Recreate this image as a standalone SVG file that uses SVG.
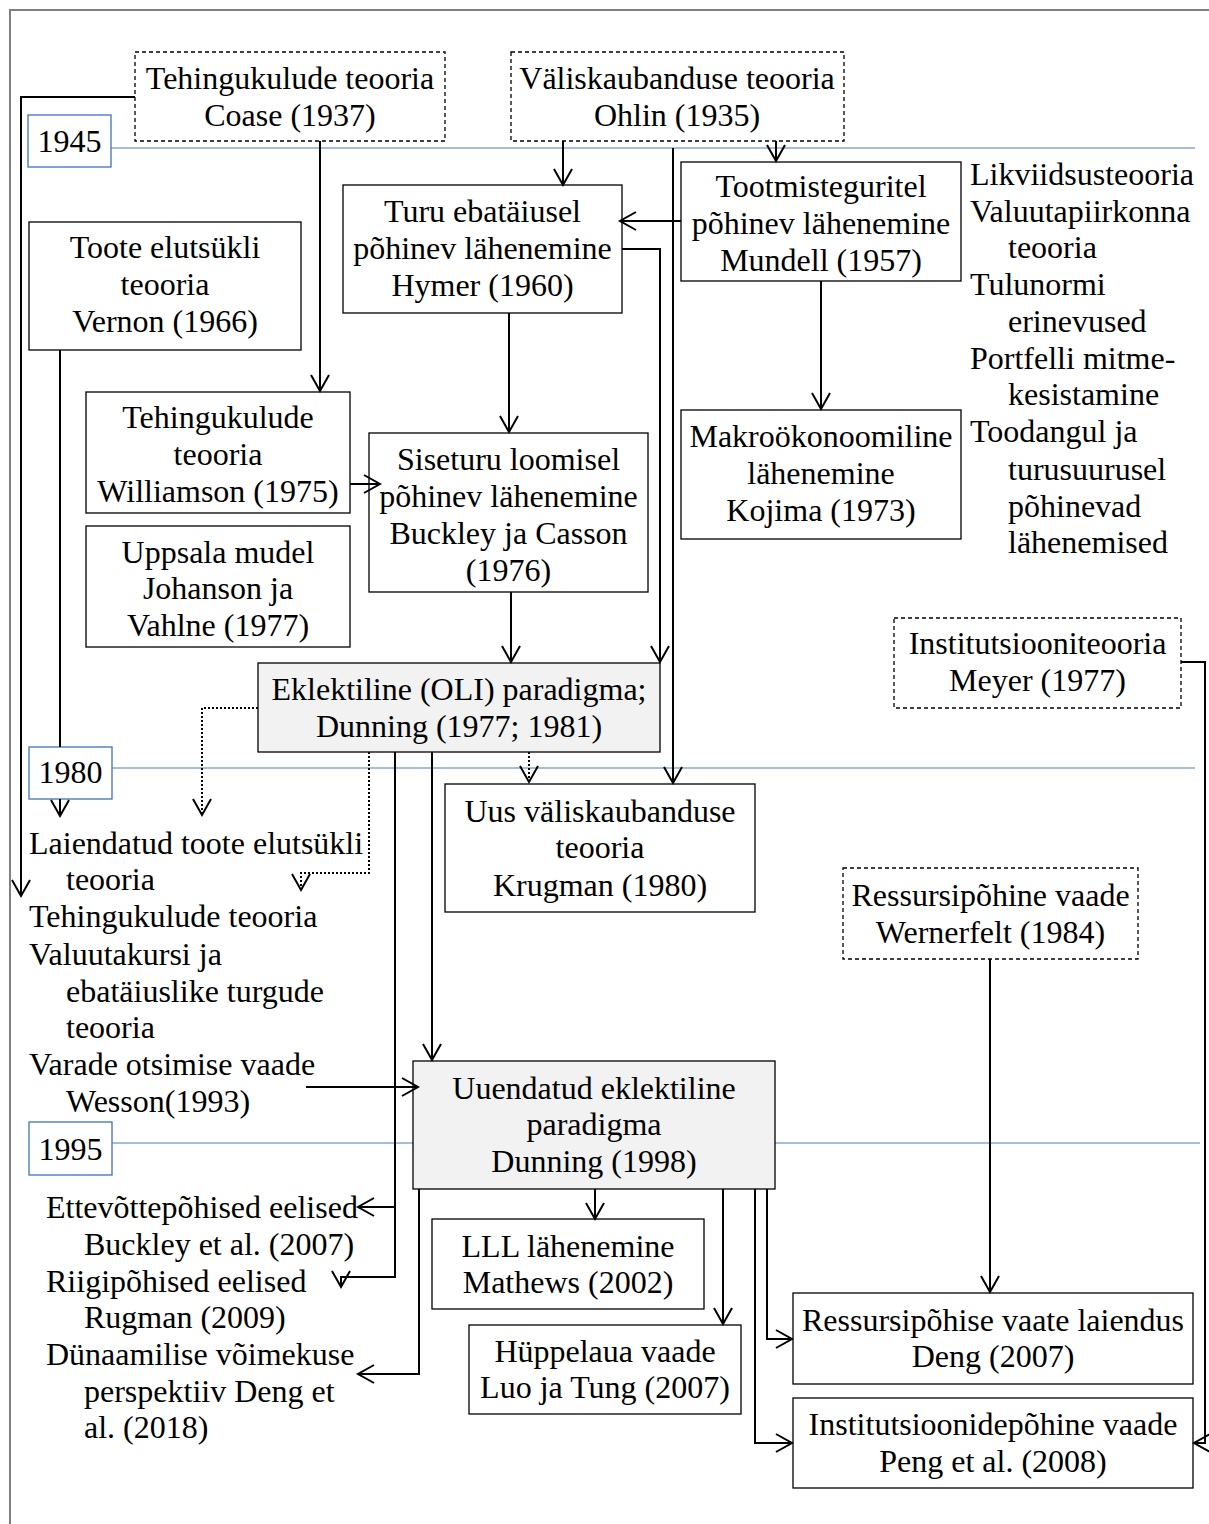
<svg xmlns="http://www.w3.org/2000/svg" width="1209" height="1524" viewBox="0 0 1209 1524">
<defs>
<style>
.t{font-family:"Liberation Serif","Times New Roman",serif;font-size:32px;fill:#000}
.c{text-anchor:middle}
.box{fill:#fff;stroke:#000;stroke-width:1.3}
.dbox{fill:#fff;stroke:#000;stroke-width:1.3;stroke-dasharray:4 3}
.gbox{fill:#f2f2f2;stroke:#000;stroke-width:1.3}
.ybox{fill:#fff;stroke:#4a7ebb;stroke-width:1.4}
.yl{stroke:#4a7ebb;stroke-width:1.2;fill:none}
.cn{fill:none;stroke:#000;stroke-width:2;marker-end:url(#arr)}
.dot{stroke-dasharray:2 2}
</style>
<marker id="arr" markerUnits="userSpaceOnUse" markerWidth="24" markerHeight="24" viewBox="-20 -12 24 24" refX="0" refY="0" orient="auto" overflow="visible">
<path d="M-16,-9 L0,0 L-16,9" fill="none" stroke="#000" stroke-width="2"/>
</marker>
</defs>
<rect width="1209" height="1524" fill="#fff"/>
<path d="M10,1524 V10 H1209" fill="none" stroke="#808080" stroke-width="2"/>

<g id="timeline">
<path class="yl" d="M111,148 H1195"/>
<path class="yl" d="M112,768 H1195"/>
<path class="yl" d="M112,1143 H1200"/>
</g>

<g id="y1945"><rect class="ybox" x="28" y="115" width="83" height="52"/><text class="t c" x="69.5" y="152">1945</text></g>
<g id="y1980"><rect class="ybox" x="29" y="747" width="83" height="52"/><text class="t c" x="70.5" y="783">1980</text></g>
<g id="y1995"><rect class="ybox" x="29" y="1122" width="83" height="53"/><text class="t c" x="70.5" y="1160">1995</text></g>

<g id="coase"><rect class="dbox" x="135" y="52" width="310" height="89"/>
<text class="t c" x="290" y="89">Tehingukulude teooria</text><text class="t c" x="290" y="126">Coase (1937)</text></g>

<g id="ohlin"><rect class="dbox" x="511" y="52" width="333" height="89"/>
<text class="t c" x="677" y="89">Väliskaubanduse teooria</text><text class="t c" x="677" y="126">Ohlin (1935)</text></g>

<g id="hymer"><rect class="box" x="343" y="185" width="279" height="128"/>
<text class="t c" x="482.5" y="222">Turu ebatäiusel</text><text class="t c" x="482.5" y="259">põhinev lähenemine</text><text class="t c" x="482.5" y="296">Hymer (1960)</text></g>

<g id="mundell"><rect class="box" x="681" y="162" width="280" height="119"/>
<text class="t c" x="821" y="197">Tootmisteguritel</text><text class="t c" x="821" y="234">põhinev lähenemine</text><text class="t c" x="821" y="271">Mundell (1957)</text></g>

<g id="rightlist">
<text class="t" x="970" y="185">Likviidsusteooria</text>
<text class="t" x="970" y="222">Valuutapiirkonna</text>
<text class="t" x="1008" y="258">teooria</text>
<text class="t" x="970" y="295">Tulunormi</text>
<text class="t" x="1008" y="332">erinevused</text>
<text class="t" x="970" y="369">Portfelli mitme-</text>
<text class="t" x="1008" y="405">kesistamine</text>
<text class="t" x="970" y="442">Toodangul ja</text>
<text class="t" x="1008" y="480">turusuurusel</text>
<text class="t" x="1008" y="517">põhinevad</text>
<text class="t" x="1008" y="553">lähenemised</text>
</g>

<g id="vernon"><rect class="box" x="29" y="222" width="272" height="128"/>
<text class="t c" x="165" y="258">Toote elutsükli</text><text class="t c" x="165" y="295">teooria</text><text class="t c" x="165" y="332">Vernon (1966)</text></g>

<g id="williamson"><rect class="box" x="86" y="392" width="264" height="121"/>
<text class="t c" x="218" y="428">Tehingukulude</text><text class="t c" x="218" y="465">teooria</text><text class="t c" x="218" y="502">Williamson (1975)</text></g>

<g id="uppsala"><rect class="box" x="86" y="526" width="264" height="121"/>
<text class="t c" x="218" y="563">Uppsala mudel</text><text class="t c" x="218" y="599">Johanson ja</text><text class="t c" x="218" y="636">Vahlne (1977)</text></g>

<g id="buckley"><rect class="box" x="369" y="433" width="279" height="159"/>
<text class="t c" x="508.5" y="470">Siseturu loomisel</text><text class="t c" x="508.5" y="507">põhinev lähenemine</text><text class="t c" x="508.5" y="544">Buckley ja Casson</text><text class="t c" x="508.5" y="581">(1976)</text></g>

<g id="kojima"><rect class="box" x="681" y="410" width="280" height="129"/>
<text class="t c" x="821" y="447">Makroökonoomiline</text><text class="t c" x="821" y="484">lähenemine</text><text class="t c" x="821" y="521">Kojima (1973)</text></g>

<g id="oli"><rect class="gbox" x="258" y="663" width="402" height="89"/>
<text class="t c" x="459" y="700">Eklektiline (OLI) paradigma;</text><text class="t c" x="459" y="737">Dunning (1977; 1981)</text></g>

<g id="meyer"><rect class="dbox" x="894" y="618" width="287" height="90"/>
<text class="t c" x="1037.5" y="654">Institutsiooniteooria</text><text class="t c" x="1037.5" y="691">Meyer (1977)</text></g>

<g id="krugman"><rect class="box" x="445" y="784" width="310" height="128"/>
<text class="t c" x="600" y="822">Uus väliskaubanduse</text><text class="t c" x="600" y="858">teooria</text><text class="t c" x="600" y="896">Krugman (1980)</text></g>

<g id="leftlist">
<text class="t" x="29" y="854">Laiendatud toote elutsükli</text>
<text class="t" x="66" y="890">teooria</text>
<text class="t" x="29" y="927">Tehingukulude teooria</text>
<text class="t" x="29" y="965">Valuutakursi ja</text>
<text class="t" x="66" y="1002">ebatäiuslike turgude</text>
<text class="t" x="66" y="1038">teooria</text>
<text class="t" x="29" y="1075">Varade otsimise vaade</text>
<text class="t" x="66" y="1112">Wesson(1993)</text>
</g>

<g id="wernerfelt"><rect class="dbox" x="843" y="868" width="295" height="91"/>
<text class="t c" x="990.5" y="906">Ressursipõhine vaade</text><text class="t c" x="990.5" y="943">Wernerfelt (1984)</text></g>

<g id="dunning98"><rect class="gbox" x="413" y="1061" width="362" height="128"/>
<text class="t c" x="594" y="1099">Uuendatud eklektiline</text><text class="t c" x="594" y="1135">paradigma</text><text class="t c" x="594" y="1172">Dunning (1998)</text></g>

<g id="mathews"><rect class="box" x="432" y="1219" width="272" height="90"/>
<text class="t c" x="568" y="1257">LLL lähenemine</text><text class="t c" x="568" y="1293">Mathews (2002)</text></g>

<g id="luo"><rect class="box" x="469" y="1325" width="272" height="89"/>
<text class="t c" x="605" y="1362">Hüppelaua vaade</text><text class="t c" x="605" y="1398">Luo ja Tung (2007)</text></g>

<g id="deng"><rect class="box" x="793" y="1293" width="400" height="91"/>
<text class="t c" x="993" y="1331">Ressursipõhise vaate laiendus</text><text class="t c" x="993" y="1367">Deng (2007)</text></g>

<g id="peng"><rect class="box" x="793" y="1398" width="400" height="90"/>
<text class="t c" x="993" y="1435">Institutsioonidepõhine vaade</text><text class="t c" x="993" y="1472">Peng et al. (2008)</text></g>

<g id="bottomlist">
<text class="t" x="46" y="1218">Ettevõttepõhised eelised</text>
<text class="t" x="84" y="1255">Buckley et al. (2007)</text>
<text class="t" x="46" y="1292">Riigipõhised eelised</text>
<text class="t" x="84" y="1328">Rugman (2009)</text>
<text class="t" x="46" y="1365">Dünaamilise võimekuse</text>
<text class="t" x="84" y="1402">perspektiiv Deng et</text>
<text class="t" x="84" y="1438">al. (2018)</text>
</g>

<g id="connectors">
<path class="cn" d="M135,97 H21 V896"/>
<path class="cn" d="M320,141 V391"/>
<path class="cn" d="M563,141 V185"/>
<path class="cn" d="M776,141 V161"/>
<path class="cn" d="M673,148 V783"/>
<path class="cn" d="M681,221 H620"/>
<path class="cn" d="M622,249 H660 V662"/>
<path class="cn" d="M509,313 V432"/>
<path class="cn" d="M821,281 V409"/>
<path class="cn" d="M350,484 H380"/>
<path class="cn" d="M511,592 V662"/>
<path class="cn" d="M60,350 V747 M60,799 V816"/>
<path class="cn dot" d="M258,708 H202 V815"/>
<path class="cn dot" d="M369,752 V873 H301 V890"/>
<path class="cn dot" d="M529,752 V782"/>
<path class="cn" d="M432,752 V1060"/>
<path class="cn" d="M395,752 V1277 H341 V1287"/>
<path class="cn" d="M395,1207 H358"/>
<path class="cn" d="M419,1189 V1374 H358"/>
<path class="cn" d="M306,1087 H418"/>
<path class="cn" d="M595,1189 V1219"/>
<path class="cn" d="M723,1189 V1324"/>
<path class="cn" d="M767,1189 V1339 H792"/>
<path class="cn" d="M755,1189 V1443 H792"/>
<path class="cn" d="M990,959 V1292"/>
<path class="cn" d="M1181,662 H1205 V1443 H1194"/>
</g>
</svg>
